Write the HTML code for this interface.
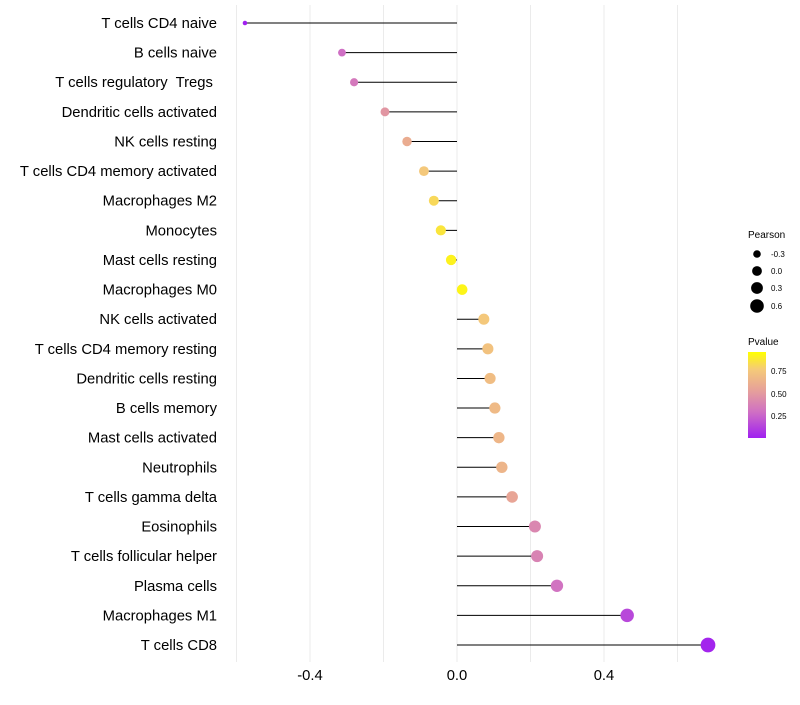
<!DOCTYPE html>
<html><head><meta charset="utf-8"><style>
body{margin:0;background:#fff;font-family:"Liberation Sans",sans-serif}
</style></head><body>
<svg id="chart" width="800" height="700" xmlns="http://www.w3.org/2000/svg">
<defs><linearGradient id="pg" x1="0" y1="1" x2="0" y2="0">
<stop offset="0" stop-color="#A020F0"/><stop offset="0.3" stop-color="#CF6FC4"/><stop offset="0.55" stop-color="#E6A09A"/><stop offset="0.8" stop-color="#F5CB78"/><stop offset="1" stop-color="#FFFF00"/></linearGradient></defs>
<g id="grid"></g><g id="marks"></g><g id="labels"></g>
<g font-size="9" fill="#000">
<text x="748" y="238" font-size="10">Pearson</text>
<circle cx="757" cy="254" r="3.8"/><text x="771" y="257" font-size="8">-0.3</text>
<circle cx="757" cy="271" r="4.9"/><text x="771" y="274" font-size="8">0.0</text>
<circle cx="757" cy="288" r="5.9"/><text x="771" y="291" font-size="8">0.3</text>
<circle cx="757" cy="306" r="6.8"/><text x="771" y="309" font-size="8">0.6</text>
</g>
<g>
<text x="748" y="345" font-size="10">Pvalue</text>
<rect x="748" y="352" width="18" height="86" fill="url(#pg)"/>
<text x="771" y="374" font-size="8">0.75</text>
<text x="771" y="397" font-size="8">0.50</text>
<text x="771" y="419" font-size="8">0.25</text>
</g>
</svg>
<script>
const categories=["T cells CD4 naive","B cells naive","T cells regulatory  Tregs ","Dendritic cells activated","NK cells resting","T cells CD4 memory activated","Macrophages M2","Monocytes","Mast cells resting","Macrophages M0","NK cells activated","T cells CD4 memory resting","Dendritic cells resting","B cells memory","Mast cells activated","Neutrophils","T cells gamma delta","Eosinophils","T cells follicular helper","Plasma cells","Macrophages M1","T cells CD8"];
const pearson=[-0.577,-0.313,-0.280,-0.196,-0.136,-0.090,-0.063,-0.044,-0.016,0.014,0.073,0.084,0.090,0.103,0.114,0.122,0.150,0.212,0.218,0.272,0.463,0.683];
const pvalues=[0.005,0.3,0.35,0.5,0.62,0.78,0.85,0.9,0.95,0.96,0.78,0.75,0.72,0.7,0.68,0.67,0.58,0.42,0.4,0.32,0.15,0.02];
const xTicks=[-0.4,0.0,0.4];
const xGrid=[-0.6,-0.4,-0.2,0,0.2,0.4,0.6];
const NS="http://www.w3.org/2000/svg";
const xs=v=>457+v*367.5;
const ys=i=>23+i*29.62;
const rs=p=>Math.sqrt(Math.max(2,5+39*(p+0.58)));
const stops=[[0,[160,32,240]],[0.3,[207,111,196]],[0.55,[230,160,154]],[0.8,[245,203,120]],[1,[255,255,0]]];
function col(p){for(let i=1;i<stops.length;i++){if(p<=stops[i][0]){const a=stops[i-1],b=stops[i],t=(p-a[0])/(b[0]-a[0]);return 'rgb('+a[1].map((c,k)=>Math.round(c+(b[1][k]-c)*t)).join(',')+')';}}return 'rgb(255,255,0)';}
function mk(t,a,p){const e=document.createElementNS(NS,t);for(const k in a)e.setAttribute(k,a[k]);p.appendChild(e);return e;}
const g=document.getElementById('grid'),m=document.getElementById('marks'),l=document.getElementById('labels');
xGrid.forEach(v=>{const e=mk('line',{x1:xs(v),x2:xs(v),y1:5,y2:662,stroke:'#ebebeb','stroke-width':1},g);

});
xTicks.forEach(v=>{const e=mk('text',{x:xs(v),y:680,'text-anchor':'middle','font-size':14.8,fill:'#000'},l);e.textContent=v.toFixed(1);

});
categories.forEach((c,i)=>{const y=ys(i);
const t=mk('text',{x:217,y:y+5,'text-anchor':'end','font-size':14.8,fill:'#000',style:'white-space:pre'},l);t.textContent=c;


const ln=mk('line',{x1:xs(0),x2:xs(pearson[i]),y1:y,y2:y,stroke:'#000','stroke-width':1},m);


const d=mk('circle',{cx:xs(pearson[i]),cy:y,r:rs(pearson[i]),fill:col(pvalues[i])},m);

});
</script>
</body></html>
